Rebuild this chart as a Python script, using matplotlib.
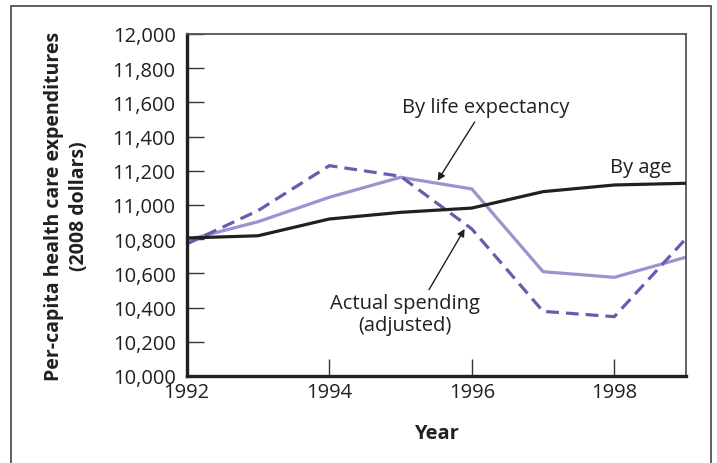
import matplotlib
matplotlib.use("Agg")
import matplotlib.pyplot as plt
from matplotlib.patches import Rectangle
from matplotlib.ticker import FuncFormatter

years = [1992, 1993, 1994, 1995, 1996, 1997, 1998, 1999]
by_age = [10807, 10820, 10918, 10957, 10982, 11078, 11117, 11127]
by_life = [10795, 10902, 11045, 11162, 11094, 10610, 10577, 10694]
actual = [10772, 10967, 11230, 11168, 10860, 10378, 10347, 10801]

y_ticks = [10000, 10200, 10400, 10600, 10800, 11000, 11200, 11400, 11600, 11800, 12000]
x_ticks = [1992, 1994, 1996, 1998]

plt.rcParams['font.family'] = ['Open Sans', 'DejaVu Sans']

fig = plt.figure(figsize=(7.17, 4.64), dpi=100)
fig.patches.append(Rectangle((11/717, -0.05), 700/717, 1.05 - 7/464, transform=fig.transFigure,
                             fill=False, edgecolor='#444444', linewidth=1.2))
ax = fig.add_axes([0.2604, 0.1875, 0.9562 - 0.2604, 0.9246 - 0.1875])

black = '#231f20'
light = '#9d91cf'
dark = '#6c5aae'

ax.plot(years, by_age, color=black, lw=2.3, solid_joinstyle='miter', zorder=3)
ax.plot(years, by_life, color=light, lw=2.3, solid_joinstyle='miter', zorder=2)
ax.plot(years, actual, color=dark, lw=2.3, linestyle=(0, (4, 2.2)), zorder=2)

ax.set_xlim(1992, 1999)
ax.set_ylim(10000, 12000)
ax.set_xticks(x_ticks)
ax.set_yticks(y_ticks)
ax.yaxis.set_major_formatter(FuncFormatter(lambda v, p: f"{int(v):,}"))

for s in ['left', 'bottom']:
    ax.spines[s].set_linewidth(2.4)
    ax.spines[s].set_color(black)
for s in ['top', 'right']:
    ax.spines[s].set_linewidth(1.3)
    ax.spines[s].set_color('#555555')

fs = 14.5
ax.tick_params(axis='both', direction='in', length=12, width=1.0, color='#333333',
               labelsize=fs, labelcolor=black)
ax.tick_params(axis='y', pad=8)
ax.tick_params(axis='x', pad=4.5)

ax.set_xlabel('Year', fontsize=fs, fontweight='bold', color=black, labelpad=15)
ax.set_ylabel('Per-capita health care expenditures\n(2008 dollars)', fontsize=14,
              fontweight='bold', color=black, labelpad=17, linespacing=1.3)

arrow = dict(arrowstyle='-|>', lw=1.0, color=black, mutation_scale=11, shrinkA=0, shrinkB=0)
ax.annotate('', xy=(1995.52, 11142), xytext=(1996.04, 11485), arrowprops=arrow)
ax.text(1996.2, 11573, 'By life expectancy', ha='center', va='center', fontsize=fs, color=black)
ax.text(1998.81, 11222, 'By age', ha='right', va='center', fontsize=fs, color=black)
ax.annotate('', xy=(1995.90, 10860), xytext=(1995.40, 10505), arrowprops=arrow)
ax.text(1995.06, 10363, 'Actual spending\n(adjusted)', ha='center', va='center',
        fontsize=fs, color=black, linespacing=1.1)

fig.savefig('out.png', dpi=100)
